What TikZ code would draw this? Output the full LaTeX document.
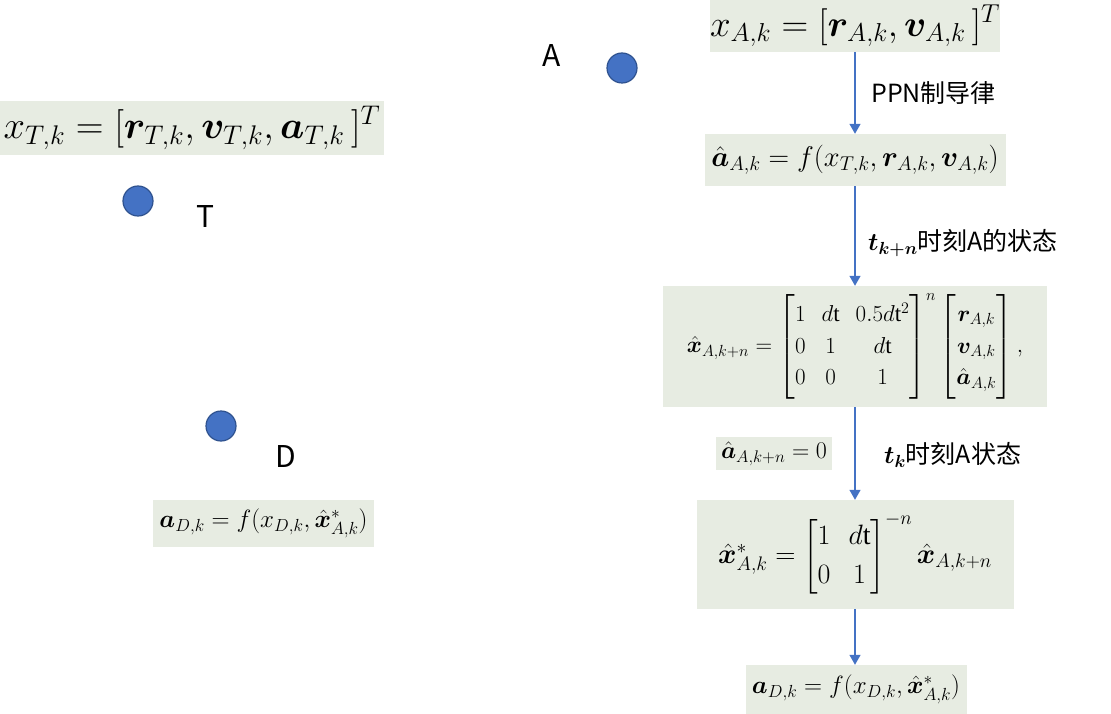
\RequirePackage{fix-cm}
\documentclass[tikz,border=0pt]{standalone}
\usepackage{amsmath}
\usepackage{bm}
\usepackage{fontspec}
\setmainfont{Liberation Serif}
\newfontfamily\cjk{Noto Sans CJK SC}
\usetikzlibrary{arrows.meta}
\definecolor{boxfill}{HTML}{E7ECE2}
\definecolor{dotblue}{HTML}{4472C4}
\definecolor{dotedge}{HTML}{2F528F}
\tikzset{
  fbox/.style={fill=boxfill, inner sep=0pt},
  dot/.style={circle, fill=dotblue, draw=dotedge, line width=1.2pt, minimum size=30pt, inner sep=0pt},
  letter/.style={font=\cjk\fontsize{30}{34}\selectfont, inner sep=0pt},
  lab/.style={font=\cjk\fontsize{25}{29}\selectfont, anchor=west, inner sep=0pt},
  flow/.style={draw=dotblue, line width=1.3pt, -{Triangle[width=11pt,length=10pt]}},
}
\newcommand{\fs}[1]{\fontsize{#1}{#1}\selectfont}
\begin{document}
\begin{tikzpicture}[x=1pt,y=-1pt]
\useasboundingbox (0,0) rectangle (1111,714);
% right column boxes
\node[fbox, minimum width=288pt, minimum height=52pt] (bA) at (855,26)
  {\fs{37}$x_{A,k} = [\bm{r}_{A,k}, \bm{v}_{A,k}\,]^T$};
\node[fbox, minimum width=301pt, minimum height=52pt] (b2) at (855,160)
  {\fs{28.5}$\hat{\bm{a}}_{A,k} = f(x_{T,k}, \bm{r}_{A,k}, \bm{v}_{A,k})$};
\node[fbox, minimum width=384pt, minimum height=121pt] (b3) at (855,346.5)
  {\fs{23}\renewcommand{\arraystretch}{1.38}\setlength{\arraycolsep}{8pt}$\hat{\bm{x}}_{A,k+n} = \begin{bmatrix} 1 & d\mathrm{t} & 0.5d\mathrm{t}^2\\ 0 & 1 & d\mathrm{t}\\ 0 & 0 & 1\end{bmatrix}^{n} \begin{bmatrix} \bm{r}_{A,k}\\ \bm{v}_{A,k}\\ \hat{\bm{a}}_{A,k}\end{bmatrix},$};
\node[fbox, minimum width=317pt, minimum height=109pt] (b4) at (855,554.5)
  {\fs{28}\renewcommand{\arraystretch}{1.4}\setlength{\arraycolsep}{9pt}$\hat{\bm{x}}^{*}_{A,k} = \begin{bmatrix} 1 & d\mathrm{t}\\ 0 & 1\end{bmatrix}^{-n} \hat{\bm{x}}_{A,k+n}$};
\node[fbox, minimum width=221pt, minimum height=49pt] (b5) at (856,689.5)
  {\fs{25}$\bm{a}_{D,k} = f(x_{D,k}, \hat{\bm{x}}^{*}_{A,k})$};
\node[fbox, minimum width=116pt, minimum height=33pt] (b0) at (774,453.5)
  {\fs{24}$\hat{\bm{a}}_{A,k+n} = 0$};
% left boxes
\node[fbox, minimum width=384pt, minimum height=54pt] (bT) at (192,128)
  {\fs{38.5}$x_{T,k} = [\bm{r}_{T,k}, \bm{v}_{T,k}, \bm{a}_{T,k}\,]^T$};
\node[fbox, minimum width=221pt, minimum height=47pt] (bD) at (263.5,523.5)
  {\fs{25}$\bm{a}_{D,k} = f(x_{D,k}, \hat{\bm{x}}^{*}_{A,k})$};
% dots and letters
\node[dot] (cA) at (622,68) {};
\node[letter] (lA) at (552,56) {A};
\node[dot] (cT) at (138,201) {};
\node[letter] (lT) at (205,217) {T};
\node[dot] (cD) at (221,426) {};
\node[letter] (lD) at (286,457) {D};
% connectors
\draw[flow] (bA.south) -- (b2.north);
\draw[flow] (b2.south) -- (b3.north);
\draw[flow] (b3.south) -- (b4.north);
\draw[flow] (b4.south) -- (b5.north -| b4.south);
% connector labels
\node[lab] (l1) at (871,93) {PPN制导律};
\node[lab] (l2) at (868,243) {$\bm{t}_{\bm{k+n}}$时刻A的状态};
\node[lab] (l3) at (884,455) {$\bm{t}_{\bm{k}}$时刻A状态};
\end{tikzpicture}
\end{document}
